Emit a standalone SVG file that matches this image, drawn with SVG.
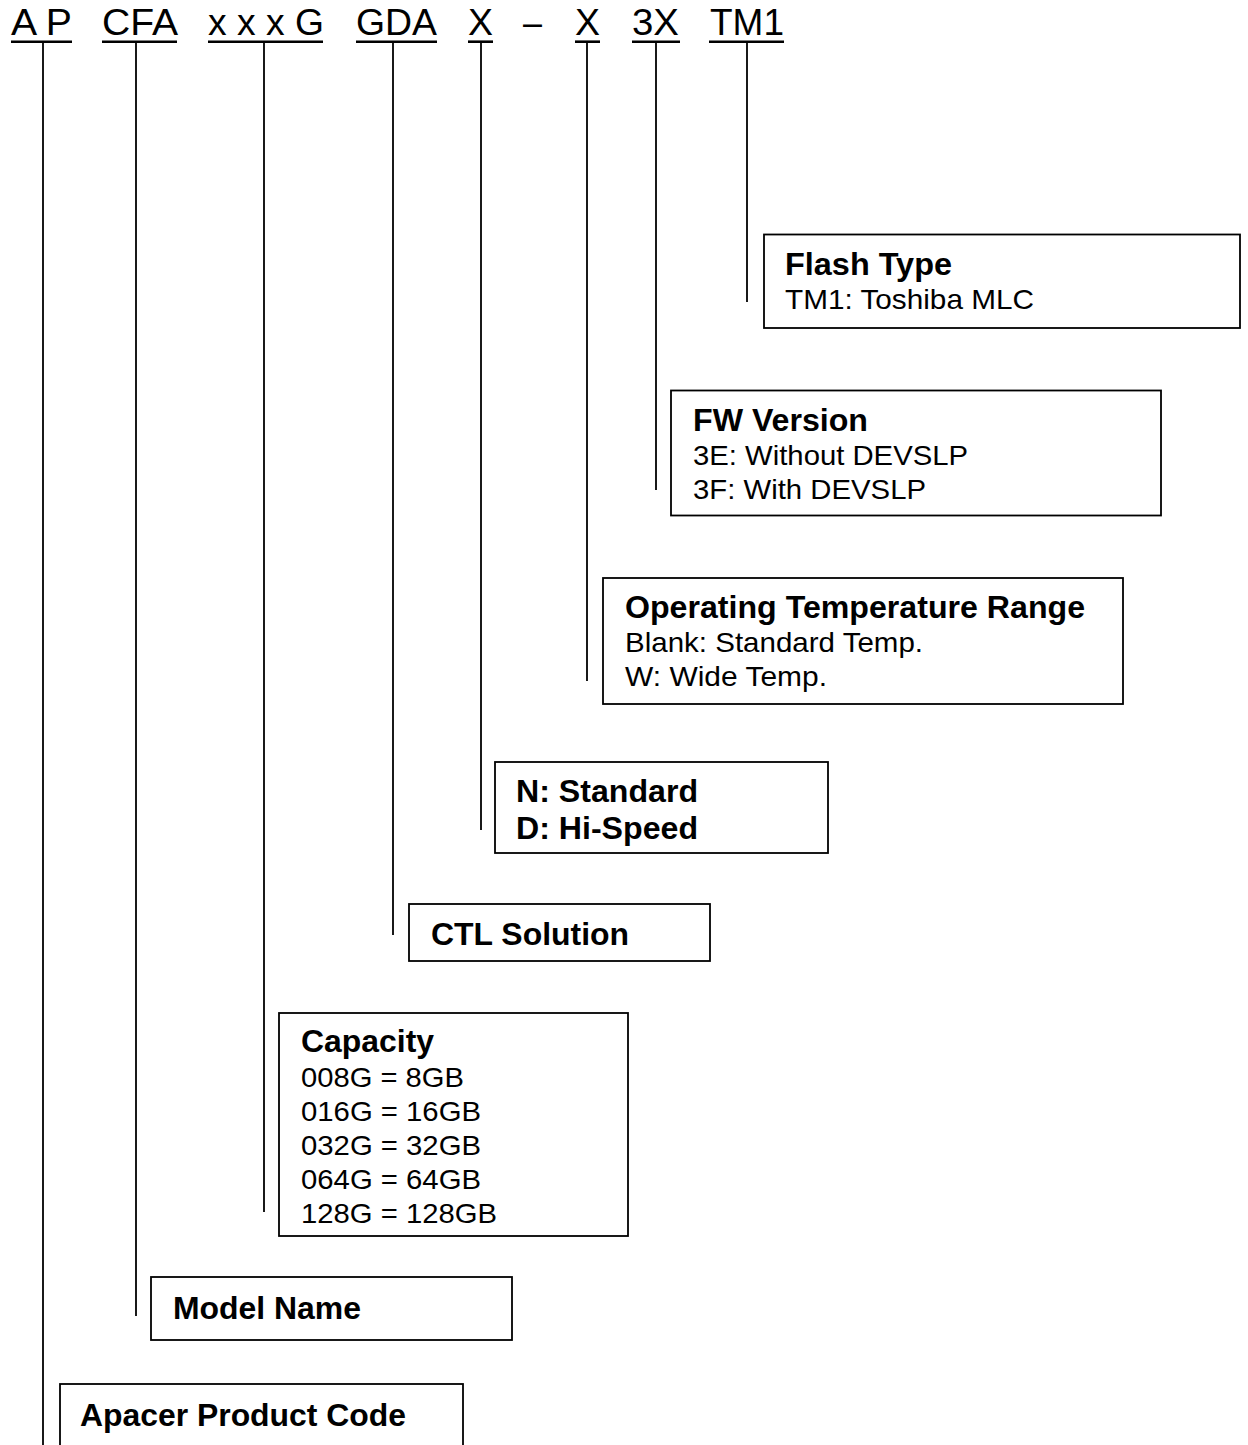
<svg xmlns="http://www.w3.org/2000/svg" width="1248" height="1445" viewBox="0 0 1248 1445">
<style>
text{font-family:"Liberation Sans",Arial,Helvetica,sans-serif;fill:#000}
.code{font-size:36px}
.t{font-size:31.5px;font-weight:bold}
.r{font-size:28.5px}
.box{fill:#fff;stroke:#000;stroke-width:1.8}
.ul{stroke:#000;stroke-width:2.6}
.stem{stroke:#000;stroke-width:1.8;fill:none}
</style>
<rect width="1248" height="1445" fill="#fff"/>

<g id="code">
  <g id="seg-ap"><text class="code" x="11" y="34.5" textLength="61" lengthAdjust="spacingAndGlyphs">A P</text><line class="ul" x1="11" y1="41.7" x2="72" y2="41.7"/></g>
  <g id="seg-cfa"><text class="code" x="102" y="34.5" textLength="76" lengthAdjust="spacingAndGlyphs">CFA</text><line class="ul" x1="102" y1="41.7" x2="177" y2="41.7"/></g>
  <g id="seg-cap"><text class="code" x="208" y="34.5" textLength="116" lengthAdjust="spacingAndGlyphs">x x x G</text><line class="ul" x1="208" y1="41.7" x2="323" y2="41.7"/></g>
  <g id="seg-gda"><text class="code" x="356" y="34.5" textLength="81" lengthAdjust="spacingAndGlyphs">GDA</text><line class="ul" x1="356" y1="41.7" x2="437" y2="41.7"/></g>
  <g id="seg-x1"><text class="code" x="468" y="34.5" textLength="25" lengthAdjust="spacingAndGlyphs">X</text><line class="ul" x1="468" y1="41.7" x2="493" y2="41.7"/></g>
  <g id="seg-dash"><text class="code" x="523" y="34.5" textLength="19" lengthAdjust="spacingAndGlyphs">–</text></g>
  <g id="seg-x2"><text class="code" x="575" y="34.5" textLength="25" lengthAdjust="spacingAndGlyphs">X</text><line class="ul" x1="575" y1="41.7" x2="600" y2="41.7"/></g>
  <g id="seg-3x"><text class="code" x="632" y="34.5" textLength="47" lengthAdjust="spacingAndGlyphs">3X</text><line class="ul" x1="632" y1="41.7" x2="680" y2="41.7"/></g>
  <g id="seg-tm1"><text class="code" x="710" y="34.5" textLength="74" lengthAdjust="spacingAndGlyphs">TM1</text><line class="ul" x1="709" y1="41.7" x2="784" y2="41.7"/></g>
</g>

<g id="connectors">
  <line class="stem" x1="43" y1="43" x2="43" y2="1445"/>
  <line class="stem" x1="136" y1="43" x2="136" y2="1316"/>
  <line class="stem" x1="264" y1="43" x2="264" y2="1212"/>
  <line class="stem" x1="393" y1="43" x2="393" y2="935"/>
  <line class="stem" x1="481" y1="43" x2="481" y2="830"/>
  <line class="stem" x1="587" y1="43" x2="587" y2="681"/>
  <line class="stem" x1="656" y1="43" x2="656" y2="490"/>
  <line class="stem" x1="747" y1="43" x2="747" y2="302"/>
</g>

<g id="flash-type">
  <rect class="box" x="764" y="234.5" width="476" height="93.5"/>
  <text class="t" x="785" y="275" textLength="167" lengthAdjust="spacingAndGlyphs">Flash Type</text>
  <text class="r" x="785" y="309" textLength="249" lengthAdjust="spacingAndGlyphs">TM1: Toshiba MLC</text>
</g>

<g id="fw-version">
  <rect class="box" x="671" y="390.5" width="490" height="125"/>
  <text class="t" x="693" y="431" textLength="175" lengthAdjust="spacingAndGlyphs">FW Version</text>
  <text class="r" x="693" y="465" textLength="275" lengthAdjust="spacingAndGlyphs">3E: Without DEVSLP</text>
  <text class="r" x="693" y="499" textLength="233" lengthAdjust="spacingAndGlyphs">3F: With DEVSLP</text>
</g>

<g id="temp-range">
  <rect class="box" x="603" y="578" width="520" height="126"/>
  <text class="t" x="625" y="618" textLength="460" lengthAdjust="spacingAndGlyphs">Operating Temperature Range</text>
  <text class="r" x="625" y="652" textLength="298" lengthAdjust="spacingAndGlyphs">Blank: Standard Temp.</text>
  <text class="r" x="625" y="686" textLength="202" lengthAdjust="spacingAndGlyphs">W: Wide Temp.</text>
</g>

<g id="speed">
  <rect class="box" x="495" y="762" width="333" height="91"/>
  <text class="t" x="516" y="802" textLength="182" lengthAdjust="spacingAndGlyphs">N: Standard</text>
  <text class="t" x="516" y="839" textLength="182" lengthAdjust="spacingAndGlyphs">D: Hi-Speed</text>
</g>

<g id="ctl-solution">
  <rect class="box" x="409" y="904" width="301" height="57"/>
  <text class="t" x="431" y="945" textLength="198" lengthAdjust="spacingAndGlyphs">CTL Solution</text>
</g>

<g id="capacity">
  <rect class="box" x="279" y="1013" width="349" height="223"/>
  <text class="t" x="301" y="1052" textLength="133" lengthAdjust="spacingAndGlyphs">Capacity</text>
  <text class="r" x="301" y="1087" textLength="163" lengthAdjust="spacingAndGlyphs">008G = 8GB</text>
  <text class="r" x="301" y="1121" textLength="180" lengthAdjust="spacingAndGlyphs">016G = 16GB</text>
  <text class="r" x="301" y="1155" textLength="180" lengthAdjust="spacingAndGlyphs">032G = 32GB</text>
  <text class="r" x="301" y="1189" textLength="180" lengthAdjust="spacingAndGlyphs">064G = 64GB</text>
  <text class="r" x="301" y="1223" textLength="196" lengthAdjust="spacingAndGlyphs">128G = 128GB</text>
</g>

<g id="model-name">
  <rect class="box" x="151" y="1277" width="361" height="63"/>
  <text class="t" x="173" y="1319" textLength="188" lengthAdjust="spacingAndGlyphs">Model Name</text>
</g>

<g id="product-code">
  <rect class="box" x="60" y="1384" width="403" height="80"/>
  <text class="t" x="80" y="1426" textLength="326" lengthAdjust="spacingAndGlyphs">Apacer Product Code</text>
</g>
</svg>
